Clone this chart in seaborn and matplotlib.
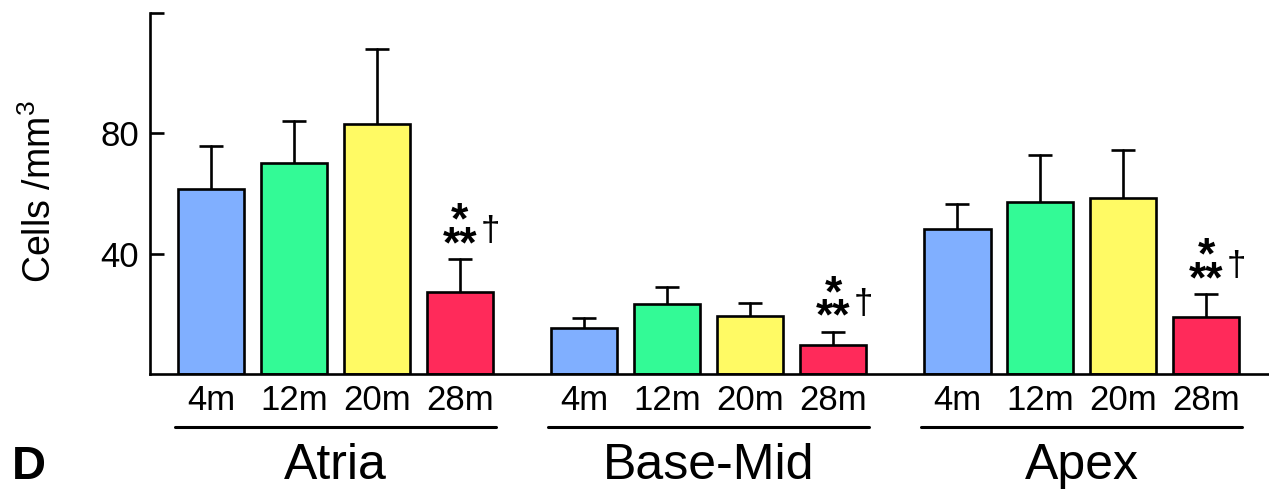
import pandas as pd
import numpy as np
import matplotlib
matplotlib.use("Agg")
import matplotlib.pyplot as plt
import matplotlib.transforms as mtransforms
import seaborn as sns

# values (cells / mm^3)
regions = ["Atria", "Base-Mid", "Apex"]
ages = ["4m", "12m", "20m", "28m"]
means = {
    "Atria":    [61.4, 70.0, 83.0, 27.2],
    "Base-Mid": [15.3, 23.3, 19.3, 9.6],
    "Apex":     [48.2, 57.1, 58.5, 18.9],
}
upper = {
    "Atria":    [75.7, 84.0, 108.0, 38.2],
    "Base-Mid": [18.6, 28.9, 23.6, 14.0],
    "Apex":     [56.5, 72.8, 74.4, 26.6],
}
colors = ["#80AFFF", "#33FA96", "#FFFA64", "#FF2A5A"]
marks = {"Atria": "28m", "Base-Mid": "28m", "Apex": "28m"}

rows = []
for r in regions:
    for i, a in enumerate(ages):
        rows.append({"region": r, "age": a, "value": means[r][i], "upper": upper[r][i]})
df = pd.DataFrame(rows)

sns.set_style("ticks")
plt.rcParams["font.family"] = ["Liberation Sans", "DejaVu Sans"]
plt.rcParams["text.color"] = "black"
plt.rcParams["axes.edgecolor"] = "black"
plt.rcParams["ytick.color"] = "black"
plt.rcParams["ytick.labelcolor"] = "black"
plt.rcParams["mathtext.fontset"] = "custom"
plt.rcParams["mathtext.rm"] = "Liberation Sans"
plt.rcParams["mathtext.default"] = "regular"

fig = plt.figure(figsize=(12.69, 4.9), dpi=100)
ax = fig.add_axes([150 / 1269, 1 - 374 / 490, 1 - 150 / 1269 - 0.0005, (374 - 13) / 490])

sns.barplot(data=df, x="region", y="value", hue="age", order=regions, hue_order=ages,
            palette=colors, saturation=1, width=0.889, gap=0.2, edgecolor="black",
            linewidth=1.9, errorbar=None, legend=False, ax=ax, zorder=2)

# patches sorted left to right follow region-major order of df
bars = sorted([p for p in ax.patches if p.get_height() > 0], key=lambda p: p.get_x())
for p, (_, row) in zip(bars, df.iterrows()):
    cx = p.get_x() + p.get_width() / 2
    ax.plot([cx, cx], [row["value"], row["upper"]], color="black", lw=1.9, zorder=1)
    ax.plot(cx, row["upper"], marker="_", ms=17, mew=1.9, color="black", zorder=1)
    ax.annotate(row["age"], xy=(cx, 0), xycoords=("data", "axes fraction"),
                xytext=(0, -19), textcoords="offset points",
                ha="center", va="center", fontsize=25)
    if row["age"] == marks[row["region"]]:
        ax.annotate("*\n**", xy=(cx, row["upper"]), xytext=(0, -5), textcoords="offset points",
                    ha="center", va="bottom", multialignment="center", linespacing=0.45,
                    fontsize=32, fontweight="bold")
        ax.annotate("\u2020", xy=(cx, row["upper"]), xytext=(22, 20), textcoords="offset points",
                    ha="center", va="center", fontsize=25)

trans = mtransforms.blended_transform_factory(ax.transData, ax.transAxes)
for g, r in enumerate(regions):
    ax.plot([g - 0.43, g + 0.43], [-0.147, -0.147], color="black", lw=2.2,
            transform=trans, clip_on=False)
    ax.text(g, -0.255, r, transform=trans, ha="center", va="center", fontsize=36)

ax.set_xlim(-0.497, 2.5)
ax.set_ylim(0, 120)
ax.set_yticks([40, 80, 120])
ax.set_yticklabels(["40", "80", ""])
ax.set_xticks([])
ax.set_xlabel("")
ax.set_ylabel("")
ax.tick_params(axis="y", direction="in", length=10, width=1.9, labelsize=25, pad=8)
for s in ["top", "right"]:
    ax.spines[s].set_visible(False)
for s in ["left", "bottom"]:
    ax.spines[s].set_linewidth(1.9)

fig.text(40 / 1269, 1 - 192 / 490, "Cells /mm$^3$", rotation=90, ha="center", va="center", fontsize=27)
fig.text(12 / 1269, 1 - 467 / 490, "D", ha="left", va="center", fontsize=34, fontweight="bold")

fig.savefig("out.png", dpi=100)
